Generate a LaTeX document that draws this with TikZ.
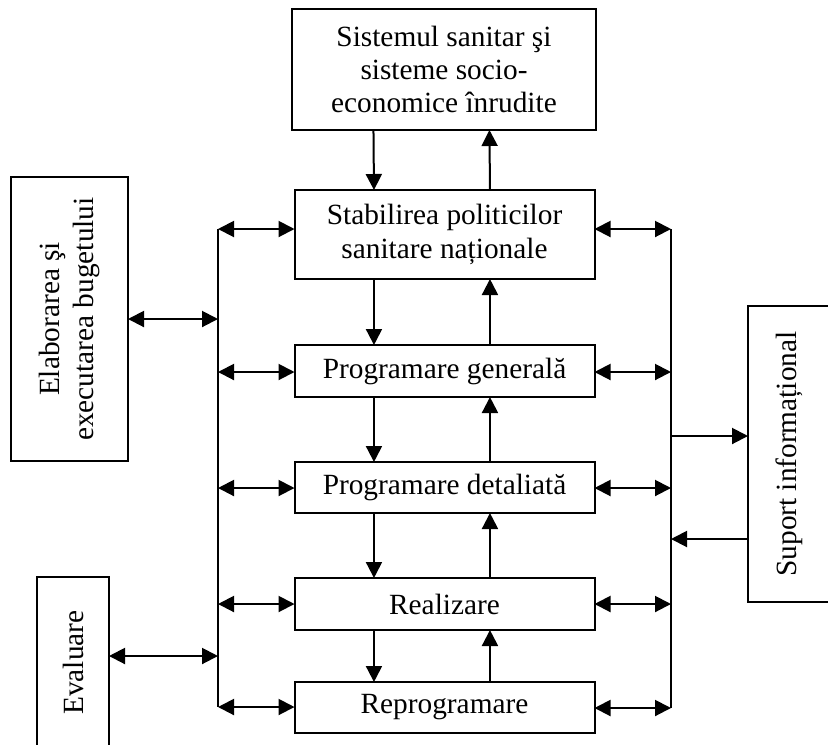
\documentclass[tikz,border=0pt]{standalone}
\usepackage{fontspec}
\setmainfont{Liberation Serif}
\usetikzlibrary{arrows.meta}

\begin{document}
\begin{tikzpicture}
        [x=0.75pt, y=-0.75pt,
        box/.style={draw, line width=1.5pt, minimum width=225pt, inner sep=0pt, outer sep=0pt,
            align=center, font=\fontsize{22}{25}\selectfont},
        sidebox/.style={box, rotate=90},
        link/.style={line width=1.5pt, -{Triangle[length=12pt, width=12pt]}},
        both/.style={line width=1.5pt, {Triangle[length=12pt, width=12pt]}-{Triangle[length=12pt, width=12pt]}},
        bus/.style={line width=1.5pt}]

        \useasboundingbox (0,0) rectangle (828,744);

        % central column
        \node[box, minimum width=228pt, minimum height=90.75pt] (sist) at (444,69.5) {Sistemul sanitar şi\\sisteme socio-\\economice înrudite};
        \node[box, minimum height=66.75pt] (stab) at (444.5,234.5) {Stabilirea politicilor\\sanitare naționale};
        \node[box, minimum height=39pt] (gen) at (444.5,371) {Programare generală};
        \node[box, minimum height=38.25pt] (det) at (444.5,487.5) {Programare detaliată};
        \node[box, minimum height=39pt] (real) at (444.5,604) {Realizare};
        \node[box, minimum height=38.25pt] (rep) at (444.5,707.5) {Reprogramare};

        % side boxes
        \node[sidebox, minimum width=213pt, minimum height=87.75pt] (buget) at (69.5,319) {Elaborarea şi\\executarea bugetului};
        \node[sidebox, minimum width=128.25pt, minimum height=54pt] (eval) at (73,662.5) {Evaluare};
        \node[sidebox, minimum width=222pt, minimum height=61.5pt] (info) at (789,454) {Suport informațional};

        % left and right bus
        \coordinate (L1) at (218,229);
        \coordinate (L2) at (218,372);
        \coordinate (L3) at (218,488);
        \coordinate (L4) at (218,604);
        \coordinate (L5) at (218,707);
        \coordinate (R1) at (671,229);
        \coordinate (R2) at (671,372);
        \coordinate (R3) at (671,488);
        \coordinate (R4) at (671,604);
        \coordinate (R5) at (671,708);
        \coordinate (LB) at (218,319);
        \coordinate (LV) at (218,656);
        \coordinate (RS1) at (671,436);
        \coordinate (RS2) at (671,539);

        \draw[bus] (L1) -- (L5);
        \draw[bus] (R1) -- (R5);

        \foreach \n/\b in {1/stab, 2/gen, 3/det, 4/real, 5/rep} {
            \draw[both] (L\n) -- (\b.west |- L\n);
            \draw[both] (\b.east |- R\n) -- (R\n);
        }

        % down and up between the boxes
        \foreach \a/\b in {sist/stab, stab/gen, gen/det, det/real, real/rep} {
            \draw[link] ([xshift=-52.9pt]\a.south) -- ([xshift=-52.9pt]\b.north);
            \draw[link] ([xshift=34.1pt]\b.north) -- ([xshift=34.1pt]\a.south);
        }

        \draw[both] (buget.south) -- (LB);
        \draw[both] (eval.south |- LV) -- (LV);
        \draw[link] (RS1) -- (info.north |- RS1);
        \draw[link] (info.north |- RS2) -- (RS2);
    \end{tikzpicture}
\end{document}
